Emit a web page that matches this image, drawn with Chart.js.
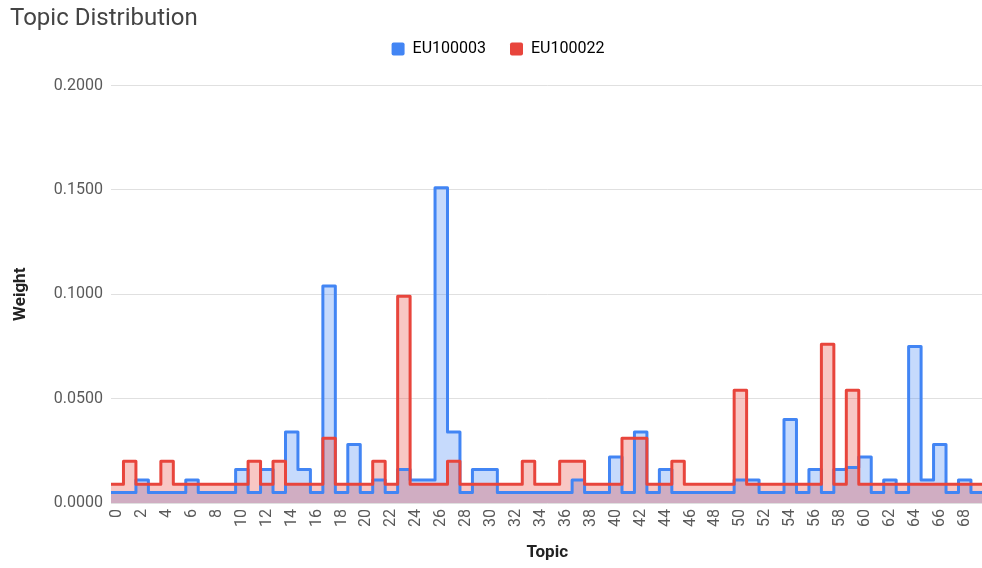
<!DOCTYPE html>
<html>
<head>
<meta charset="utf-8">
<script src="https://cdn.jsdelivr.net/npm/chart.js@4.4.1/dist/chart.umd.min.js"></script>
<style>
  html, body { margin: 0; padding: 0; background: #fff; overflow: hidden; }
  #wrap { width: 990px; height: 568px; }
</style>
</head>
<body>
<div id="wrap"><canvas id="chart"></canvas></div>
<script>
  // Topic ids on the x axis
  const topics = [
    0, 1, 2, 3, 4, 5, 6, 7, 8, 9, 10, 11, 12, 13, 14, 15, 16, 17, 18, 19,
    20, 21, 22, 23, 24, 25, 26, 27, 28, 29, 30, 31, 32, 33, 34, 35, 36, 37, 38, 39,
    40, 41, 42, 43, 44, 45, 46, 47, 48, 49, 50, 51, 52, 53, 54, 55, 56, 57, 58, 59,
    60, 61, 62, 63, 64, 65, 66, 67, 68, 69
  ];
  const xTickLabels = [
    0, 2, 4, 6, 8, 10, 12, 14, 16, 18, 20, 22, 24, 26, 28, 30, 32, 34,
    36, 38, 40, 42, 44, 46, 48, 50, 52, 54, 56, 58, 60, 62, 64, 66, 68
  ];
  const yTicks = [0, 0.05, 0.1, 0.15, 0.2];

  const seriesNames = ["EU100003", "EU100022"];

  // EU100003 weights per topic
  const weightsA = [
    0.005, 0.005, 0.011, 0.005, 0.005, 0.005, 0.011, 0.005, 0.005, 0.005,
    0.016, 0.005, 0.016, 0.005, 0.034, 0.016, 0.005, 0.104, 0.005, 0.028,
    0.005, 0.011, 0.005, 0.016, 0.011, 0.011, 0.151, 0.034, 0.005, 0.016,
    0.016, 0.005, 0.005, 0.005, 0.005, 0.005, 0.005, 0.011, 0.005, 0.005,
    0.022, 0.005, 0.034, 0.005, 0.016, 0.005, 0.005, 0.005, 0.005, 0.005,
    0.011, 0.011, 0.005, 0.005, 0.040, 0.005, 0.016, 0.005, 0.016, 0.017,
    0.022, 0.005, 0.011, 0.005, 0.075, 0.011, 0.028, 0.005, 0.011, 0.005
  ];
  // EU100022 weights per topic
  const weightsB = [
    0.009, 0.020, 0.009, 0.009, 0.020, 0.009, 0.009, 0.009, 0.009, 0.009,
    0.009, 0.020, 0.009, 0.020, 0.009, 0.009, 0.009, 0.031, 0.009, 0.009,
    0.009, 0.020, 0.009, 0.099, 0.009, 0.009, 0.009, 0.020, 0.009, 0.009,
    0.009, 0.009, 0.009, 0.020, 0.009, 0.009, 0.020, 0.020, 0.009, 0.009,
    0.009, 0.031, 0.031, 0.009, 0.009, 0.020, 0.009, 0.009, 0.009, 0.009,
    0.054, 0.009, 0.009, 0.009, 0.009, 0.009, 0.009, 0.076, 0.009, 0.054,
    0.009, 0.009, 0.009, 0.009, 0.009, 0.009, 0.009, 0.009, 0.009, 0.009
  ];

  const BLUE = "#4285f4";
  const RED = "#e8453c";
  const TICK_COLOR = "#5a5a5a";
  const FONT = "Roboto";

  // each topic is a band [t - 0.5, t + 0.5] at its weight
  function stepPoints(values) {
    const pts = values.map((v, i) => ({ x: topics[i] - 0.5, y: v }));
    pts.push({ x: topics[topics.length - 1] + 0.5, y: values[values.length - 1] });
    return pts;
  }

  const legendGap = {
    id: "legendGap",
    beforeInit(chart) {
      const fit = chart.legend.fit;
      chart.legend.fit = function () {
        fit.call(this);
        this.height += 18.5;
      };
    },
  };

  new Chart(document.getElementById("chart"), {
    type: "line",
    data: {
      datasets: [
        {
          label: seriesNames[0],
          data: stepPoints(weightsA),
          stepped: true,
          borderColor: BLUE,
          backgroundColor: "rgba(66,133,244,0.3)",
          borderWidth: 3,
          borderJoinStyle: "round",
          pointRadius: 0,
          fill: "origin",
          order: 1,
        },
        {
          label: seriesNames[1],
          data: stepPoints(weightsB),
          stepped: true,
          borderColor: RED,
          backgroundColor: "rgba(232,69,60,0.3)",
          borderWidth: 3,
          borderJoinStyle: "round",
          pointRadius: 0,
          fill: "origin",
          order: 0,
        },
      ],
    },
    options: {
      responsive: true,
      maintainAspectRatio: false,
      animation: false,
      layout: { padding: { left: 10, right: 4, top: 0, bottom: 0 } },
      plugins: {
        filler: { drawTime: "beforeDatasetsDraw" },
        title: {
          display: true,
          text: "Topic Distribution",
          align: "start",
          color: "#444",
          font: { family: FONT, size: 24, weight: "normal" },
          padding: { top: 5, bottom: -16.8 },
        },
        legend: {
          display: true,
          labels: {
            color: "#444",
            font: { family: FONT, size: 16 },
            boxWidth: 13,
            boxHeight: 13,
            padding: 24,
            generateLabels: (chart) =>
              chart.data.datasets.map((d, i) => ({
                text: d.label,
                fillStyle: d.borderColor,
                strokeStyle: d.borderColor,
                lineWidth: 0,
                borderRadius: 2,
                datasetIndex: i,
              })),
          },
        },
        tooltip: { enabled: false },
      },
      scales: {
        x: {
          type: "linear",
          min: topics[0] - 0.5,
          max: topics[topics.length - 1] + 0.5,
          afterBuildTicks: (s) => { s.ticks = xTickLabels.map((v) => ({ value: v })); },
          afterFit: (s) => { s.height = 65; },
          grid: { display: false, drawTicks: false },
          border: { display: false },
          ticks: {
            autoSkip: false,
            minRotation: 90,
            maxRotation: 90,
            padding: 6,
            color: TICK_COLOR,
            font: { family: FONT, size: 16 },
          },
          title: {
            display: true,
            text: "Topic",
            color: "#222",
            font: { family: FONT, size: 17, weight: "bold" },
            padding: { top: 0, bottom: 5 },
          },
        },
        y: {
          min: 0,
          max: 0.2,
          afterBuildTicks: (s) => { s.ticks = yTicks.map((v) => ({ value: v })); },
          afterFit: (s) => { s.width = 101; },
          grid: { color: "#e0e0e0", lineWidth: 1, drawTicks: false },
          border: { display: false },
          ticks: {
            padding: 8,
            color: TICK_COLOR,
            font: { family: FONT, size: 16 },
            callback: (v) => Number(v).toFixed(4),
          },
          title: {
            display: true,
            text: "Weight",
            color: "#222",
            font: { family: FONT, size: 17, weight: "bold" },
            padding: { top: 1, bottom: 0 },
          },
        },
      },
    },
    plugins: [legendGap],
  });
</script>
</body>
</html>
